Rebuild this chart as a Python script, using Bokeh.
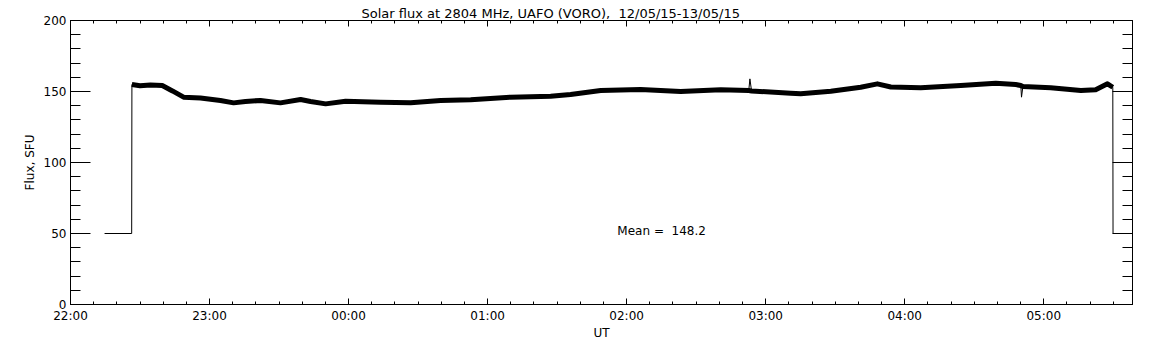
from bokeh.plotting import figure
from bokeh.models import FixedTicker, LinearAxis, Label, Range1d
from bokeh.embed import file_html
from bokeh.resources import INLINE

# ---------------- data ----------------
title_text = "Solar flux at 2804 MHz, UAFO (VORO),\u00a0 12/05/15-13/05/15"
x_title = "UT"
y_title = "Flux, SFU"
hour_ticks = [0, 60, 120, 180, 240, 300, 360, 420]          # minutes after 22:00 UT
hour_labels = ["22:00", "23:00", "00:00", "01:00", "02:00", "03:00", "04:00", "05:00"]
minor_hour_ticks = list(range(0, 460, 10))
flux_ticks = [0, 50, 100, 150, 200]
minor_flux_ticks = list(range(0, 201, 10))

# minutes after 22:00 UT
minutes = [14.7, 26.4, 26.5, 30.0, 34.5, 39.6, 44.0, 48.8, 56.1, 64.7, 70.4, 75.5, 82.0,
           90.6, 99.3, 103.6, 110.1, 118.7, 133.8, 146.8, 159.7, 172.7, 189.9,
           207.2, 215.8, 228.8, 246.0, 263.3, 280.6, 292.7, 293.2, 293.9, 310.8,
           315.1, 328.1, 341.0, 348.2, 354.0, 366.9, 384.2, 399.3, 407.9, 410.1,
           410.4, 411.0, 423.0, 436.0, 442.4, 447.5, 449.8, 449.9]
# flux, SFU
flux = [50.0, 50.0, 154.9, 154.0, 154.6, 154.2, 150.4, 146.0, 145.4, 143.7, 142.0, 143.0, 143.7,
        142.0, 144.4, 143.0, 141.3, 143.2, 142.5, 142.0, 143.7, 144.2, 146.0,
        146.7, 147.9, 150.7, 151.4, 150.0, 151.2, 150.7, 158.9, 150.4, 148.8,
        148.4, 150.2, 153.0, 155.4, 153.2, 152.6, 154.2, 155.8, 154.9, 154.2,
        146.0, 153.5, 152.6, 150.7, 151.2, 155.4, 153.0, 50.0]
# single-sample spikes (drawn only by the thin trace)
spike_minutes = [293.2, 410.4]
mean_flux = 148.2

FONT = "DejaVu Sans"

p = figure(width=1136, height=345,
           x_range=Range1d(0, 458.3), y_range=Range1d(0, 200),
           output_backend="svg", toolbar_location=None,
           min_border_left=70, min_border_right=4,
           min_border_top=20, min_border_bottom=41)
p.xgrid.visible = False
p.ygrid.visible = False
p.outline_line_color = "black"
p.background_fill_color = "white"
p.border_fill_color = "white"

p.title.text = title_text
p.title.text_font = FONT
p.title.text_font_size = "13px"
p.title.text_font_style = "normal"
p.title.text_color = "black"
p.title.align = "left"
p.title.offset = 291
p.title.standoff = 0

xt = FixedTicker(ticks=hour_ticks, minor_ticks=minor_hour_ticks)
yt = FixedTicker(ticks=flux_ticks, minor_ticks=minor_flux_ticks)

def style_common(ax):
    ax.major_tick_out = 0
    ax.minor_tick_out = 0
    ax.axis_line_color = "black"
    ax.major_tick_line_color = "black"
    ax.minor_tick_line_color = "black"
    ax.major_label_text_font = FONT
    ax.major_label_text_font_size = "12px"
    ax.major_label_text_color = "black"

def style_x(ax, labels=True):
    ax.ticker = xt
    style_common(ax)
    ax.major_tick_in = 6
    ax.minor_tick_in = 3
    if labels:
        ax.major_label_overrides = {t: l for t, l in zip(hour_ticks, hour_labels)}
        ax.major_label_standoff = 4
    else:
        ax.major_label_overrides = {t: "" for t in hour_ticks}
        ax.major_label_standoff = 0

def style_y(ax, labels=True):
    ax.ticker = yt
    style_common(ax)
    ax.major_tick_in = 20
    ax.minor_tick_in = 10
    if labels:
        ax.major_label_standoff = 4
    else:
        ax.major_label_overrides = {t: "" for t in flux_ticks}
        ax.major_label_standoff = 0

xb = p.xaxis[0]
style_x(xb)
xb.axis_label = x_title
xb.axis_label_text_font = FONT
xb.axis_label_text_font_size = "12px"
xb.axis_label_text_font_style = "normal"
xb.axis_label_text_color = "black"
xb.axis_label_standoff = 0

yl = p.yaxis[0]
style_y(yl)
yl.axis_label = y_title
yl.axis_label_text_font = FONT
yl.axis_label_text_font_size = "12px"
yl.axis_label_text_font_style = "normal"
yl.axis_label_text_color = "black"
yl.axis_label_standoff = 4

xtop = LinearAxis()
style_x(xtop, labels=False)
p.add_layout(xtop, "above")

yr = LinearAxis()
style_y(yr, labels=False)
p.add_layout(yr, "right")

# thin trace (including the 50 SFU start/stop steps and the spikes)
p.line(minutes, flux, line_color="black", line_width=1)
# the noisy measured band drawn thicker
band_x = [m for m, f in zip(minutes[2:-1], flux[2:-1]) if m not in spike_minutes]
band_y = [f for m, f in zip(minutes[2:-1], flux[2:-1]) if m not in spike_minutes]
p.line(band_x, band_y, line_color="black", line_width=5, line_join="round")

p.add_layout(Label(x=236, y=52, text=f"Mean =\u00a0{mean_flux:6.1f}",
                   text_font=FONT, text_font_size="12px", text_color="black",
                   text_baseline="middle", text_align="left"))

open("out.html", "w").write(file_html(p, INLINE))
